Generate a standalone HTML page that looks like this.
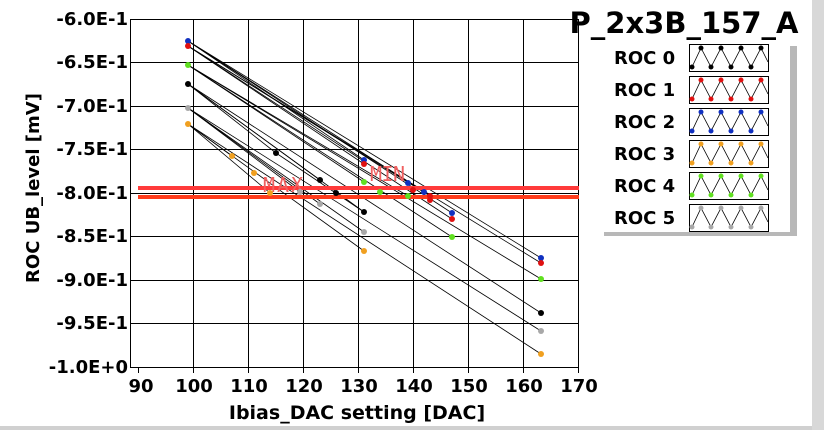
<!DOCTYPE html>
<html><head><style>
html,body{margin:0;padding:0;background:#fff;}
svg text{font-family:"DejaVu Sans","Liberation Sans",sans-serif;font-weight:bold;}
</style></head><body>
<svg width="824" height="430" xmlns="http://www.w3.org/2000/svg">
<rect width="824" height="430" fill="#fff"/>
<rect x="812" y="0" width="12" height="430" fill="#d8d8d8"/>
<rect x="0" y="426" width="812" height="4" fill="#d0d0d0"/>
<g stroke="#000" stroke-width="1">
<line x1="193.5" y1="19" x2="193.5" y2="367"/>
<line x1="248.5" y1="19" x2="248.5" y2="367"/>
<line x1="303.5" y1="19" x2="303.5" y2="367"/>
<line x1="358.5" y1="19" x2="358.5" y2="367"/>
<line x1="413.5" y1="19" x2="413.5" y2="367"/>
<line x1="468.5" y1="19" x2="468.5" y2="367"/>
<line x1="523.5" y1="19" x2="523.5" y2="367"/>
<line x1="578.5" y1="19" x2="578.5" y2="367"/>
<line x1="130" y1="62.5" x2="579" y2="62.5"/>
<line x1="130" y1="106.5" x2="579" y2="106.5"/>
<line x1="130" y1="149.5" x2="579" y2="149.5"/>
<line x1="130" y1="193.5" x2="579" y2="193.5"/>
<line x1="130" y1="236.5" x2="579" y2="236.5"/>
<line x1="130" y1="280.5" x2="579" y2="280.5"/>
<line x1="130" y1="323.5" x2="579" y2="323.5"/>
<line x1="130" y1="19.5" x2="579" y2="19.5"/>
<line x1="130.5" y1="19" x2="130.5" y2="368"/>
<line x1="130" y1="367.5" x2="579" y2="367.5"/>
</g>
<g stroke="#000" stroke-width="1">
<line x1="138.5" y1="367" x2="138.5" y2="373"/><line x1="193.5" y1="367" x2="193.5" y2="373"/><line x1="248.5" y1="367" x2="248.5" y2="373"/><line x1="303.5" y1="367" x2="303.5" y2="373"/><line x1="358.5" y1="367" x2="358.5" y2="373"/><line x1="413.5" y1="367" x2="413.5" y2="373"/><line x1="468.5" y1="367" x2="468.5" y2="373"/><line x1="523.5" y1="367" x2="523.5" y2="373"/><line x1="578.5" y1="367" x2="578.5" y2="373"/>
</g>
<g stroke="#000" stroke-width="0.8" fill="none">
<line x1="188" y1="41" x2="364" y2="160"/><line x1="188" y1="41" x2="424" y2="192"/><line x1="188" y1="41" x2="452" y2="213"/><line x1="188" y1="41" x2="541" y2="258"/>
<line x1="188" y1="46" x2="364" y2="164"/><line x1="188" y1="46" x2="430" y2="196"/><line x1="188" y1="46" x2="452" y2="219"/><line x1="188" y1="46" x2="541" y2="263"/>
<line x1="188" y1="65" x2="364" y2="182"/><line x1="188" y1="65" x2="408" y2="196"/><line x1="188" y1="65" x2="452" y2="237"/><line x1="188" y1="65" x2="541" y2="279"/>
<line x1="188" y1="84" x2="276" y2="153"/><line x1="188" y1="84" x2="320" y2="180"/><line x1="188" y1="84" x2="364" y2="212"/><line x1="188" y1="84" x2="541" y2="313"/><line x1="276" y1="153" x2="364" y2="212"/>
<line x1="188" y1="108" x2="300" y2="192"/><line x1="188" y1="108" x2="320" y2="204"/><line x1="188" y1="108" x2="364" y2="232"/><line x1="188" y1="108" x2="541" y2="331"/>
<line x1="188" y1="124" x2="232" y2="156"/><line x1="188" y1="124" x2="270" y2="193"/><line x1="188" y1="124" x2="364" y2="251"/><line x1="188" y1="124" x2="541" y2="354"/>
</g>
<rect x="138" y="186" width="441" height="4" fill="#ff3a3a"/>
<rect x="138" y="195" width="441" height="4" fill="#ff3c1c"/>
<text x="263" y="192" font-size="20" fill="#f06060" textLength="40" style="font-weight:normal;font-family:'DejaVu Sans Mono',monospace">MAX</text>
<text x="370" y="181" font-size="20" fill="#f06060" textLength="35" style="font-weight:normal;font-family:'DejaVu Sans Mono',monospace">MIN</text>
<g fill="#1030c0"><circle cx="188" cy="41" r="3"/><circle cx="364" cy="160" r="3"/><circle cx="408" cy="183" r="3"/><circle cx="424" cy="192" r="3"/><circle cx="452" cy="213" r="3"/><circle cx="541" cy="258" r="3"/></g>
<g fill="#e01010"><circle cx="188" cy="46" r="3"/><circle cx="364" cy="164" r="3"/><circle cx="413" cy="190" r="3"/><circle cx="430" cy="196" r="3"/><circle cx="430" cy="200" r="3"/><circle cx="452" cy="219" r="3"/><circle cx="541" cy="263" r="3"/></g>
<g fill="#60e020"><circle cx="188" cy="65" r="3"/><circle cx="364" cy="182" r="3"/><circle cx="380" cy="192" r="3"/><circle cx="408" cy="196" r="3"/><circle cx="452" cy="237" r="3"/><circle cx="541" cy="279" r="3"/></g>
<g fill="#000"><circle cx="188" cy="84" r="3"/><circle cx="276" cy="153" r="3"/><circle cx="320" cy="180" r="3"/><circle cx="336" cy="193" r="3"/><circle cx="364" cy="212" r="3"/><circle cx="541" cy="313" r="3"/></g>
<g fill="#a8a8a8"><circle cx="188" cy="108" r="3"/><circle cx="300" cy="192" r="3"/><circle cx="320" cy="204" r="3"/><circle cx="364" cy="232" r="3"/><circle cx="541" cy="331" r="3"/></g>
<g fill="#f0a020"><circle cx="188" cy="124" r="3"/><circle cx="232" cy="156" r="3"/><circle cx="254" cy="173" r="3"/><circle cx="270" cy="193" r="3"/><circle cx="364" cy="251" r="3"/><circle cx="541" cy="354" r="3"/></g>
<g font-size="18" text-anchor="end" fill="#000">
<text x="128" y="25">-6.0E-1</text><text x="128" y="68">-6.5E-1</text><text x="128" y="112">-7.0E-1</text><text x="128" y="155">-7.5E-1</text><text x="128" y="199">-8.0E-1</text><text x="128" y="242">-8.5E-1</text><text x="128" y="286">-9.0E-1</text><text x="128" y="329">-9.5E-1</text><text x="128" y="373">-1.0E+0</text>
</g>
<g font-size="18" text-anchor="middle" fill="#000">
<text x="141" y="392">90</text><text x="194" y="392">100</text><text x="249" y="392">110</text><text x="304" y="392">120</text><text x="359" y="392">130</text><text x="414" y="392">140</text><text x="469" y="392">150</text><text x="524" y="392">160</text><text x="579" y="392">170</text>
</g>
<text x="357" y="419" font-size="19" text-anchor="middle">Ibias_DAC setting [DAC]</text>
<text transform="translate(39,188) rotate(-90)" font-size="18" text-anchor="middle">ROC UB_level [mV]</text>
<text x="684" y="33" font-size="29" text-anchor="middle">P_2x3B_157_A</text>
<rect x="604" y="46" width="193" height="190" fill="#b8b8b8"/>
<rect x="600" y="42" width="190" height="190" fill="#fff"/>
<g font-size="18" fill="#000">
<text x="614" y="64">ROC 0</text><text x="614" y="96">ROC 1</text><text x="614" y="128">ROC 2</text><text x="614" y="160">ROC 3</text><text x="614" y="192">ROC 4</text><text x="614" y="224">ROC 5</text>
</g>
<g transform="translate(0,0)"><rect x="689.5" y="44.5" width="79" height="27" fill="#fff" stroke="#000"/><polyline points="692,67 701,48 711,67 721,48 731,67 741,48 751,67 761,48 768,62" fill="none" stroke="#000" stroke-width="0.8"/><g fill="#000"><circle cx="692" cy="67" r="2.5"/><circle cx="701" cy="48" r="2.5"/><circle cx="711" cy="67" r="2.5"/><circle cx="721" cy="48" r="2.5"/><circle cx="731" cy="67" r="2.5"/><circle cx="741" cy="48" r="2.5"/><circle cx="751" cy="67" r="2.5"/><circle cx="761" cy="48" r="2.5"/></g></g>
<g transform="translate(0,32)"><rect x="689.5" y="44.5" width="79" height="27" fill="#fff" stroke="#000"/><polyline points="692,67 701,48 711,67 721,48 731,67 741,48 751,67 761,48 768,62" fill="none" stroke="#000" stroke-width="0.8"/><g fill="#e01010"><circle cx="692" cy="67" r="2.5"/><circle cx="701" cy="48" r="2.5"/><circle cx="711" cy="67" r="2.5"/><circle cx="721" cy="48" r="2.5"/><circle cx="731" cy="67" r="2.5"/><circle cx="741" cy="48" r="2.5"/><circle cx="751" cy="67" r="2.5"/><circle cx="761" cy="48" r="2.5"/></g></g>
<g transform="translate(0,64)"><rect x="689.5" y="44.5" width="79" height="27" fill="#fff" stroke="#000"/><polyline points="692,67 701,48 711,67 721,48 731,67 741,48 751,67 761,48 768,62" fill="none" stroke="#000" stroke-width="0.8"/><g fill="#1030c0"><circle cx="692" cy="67" r="2.5"/><circle cx="701" cy="48" r="2.5"/><circle cx="711" cy="67" r="2.5"/><circle cx="721" cy="48" r="2.5"/><circle cx="731" cy="67" r="2.5"/><circle cx="741" cy="48" r="2.5"/><circle cx="751" cy="67" r="2.5"/><circle cx="761" cy="48" r="2.5"/></g></g>
<g transform="translate(0,96)"><rect x="689.5" y="44.5" width="79" height="27" fill="#fff" stroke="#000"/><polyline points="692,67 701,48 711,67 721,48 731,67 741,48 751,67 761,48 768,62" fill="none" stroke="#000" stroke-width="0.8"/><g fill="#f0a020"><circle cx="692" cy="67" r="2.5"/><circle cx="701" cy="48" r="2.5"/><circle cx="711" cy="67" r="2.5"/><circle cx="721" cy="48" r="2.5"/><circle cx="731" cy="67" r="2.5"/><circle cx="741" cy="48" r="2.5"/><circle cx="751" cy="67" r="2.5"/><circle cx="761" cy="48" r="2.5"/></g></g>
<g transform="translate(0,128)"><rect x="689.5" y="44.5" width="79" height="27" fill="#fff" stroke="#000"/><polyline points="692,67 701,48 711,67 721,48 731,67 741,48 751,67 761,48 768,62" fill="none" stroke="#000" stroke-width="0.8"/><g fill="#60e020"><circle cx="692" cy="67" r="2.5"/><circle cx="701" cy="48" r="2.5"/><circle cx="711" cy="67" r="2.5"/><circle cx="721" cy="48" r="2.5"/><circle cx="731" cy="67" r="2.5"/><circle cx="741" cy="48" r="2.5"/><circle cx="751" cy="67" r="2.5"/><circle cx="761" cy="48" r="2.5"/></g></g>
<g transform="translate(0,160)"><rect x="689.5" y="44.5" width="79" height="27" fill="#fff" stroke="#000"/><polyline points="692,67 701,48 711,67 721,48 731,67 741,48 751,67 761,48 768,62" fill="none" stroke="#000" stroke-width="0.8"/><g fill="#a8a8a8"><circle cx="692" cy="67" r="2.5"/><circle cx="701" cy="48" r="2.5"/><circle cx="711" cy="67" r="2.5"/><circle cx="721" cy="48" r="2.5"/><circle cx="731" cy="67" r="2.5"/><circle cx="741" cy="48" r="2.5"/><circle cx="751" cy="67" r="2.5"/><circle cx="761" cy="48" r="2.5"/></g></g>
</svg>
</body></html>
